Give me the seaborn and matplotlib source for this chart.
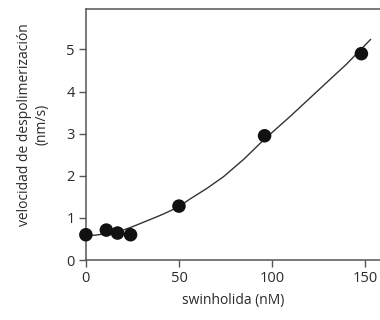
import numpy as np
import pandas as pd
import matplotlib
matplotlib.use('Agg')
import matplotlib.pyplot as plt
import seaborn as sns

# measured points
swin_nm = [0, 11, 17, 24, 50, 96, 148]
velocity = [0.60, 0.71, 0.64, 0.60, 1.28, 2.95, 4.90]

# fitted curve
fit_x = [0, 5, 10, 15, 20, 25, 30, 35, 40, 45, 50, 56, 65, 74, 85, 95, 110, 128, 140, 153]
fit_y = [0.58, 0.59, 0.62, 0.66, 0.71, 0.79, 0.88, 0.97, 1.06, 1.16, 1.27, 1.45, 1.70, 1.98, 2.40, 2.83, 3.42, 4.16, 4.65, 5.24]

x_ticks = [0, 50, 100, 150]
y_ticks = [0, 1, 2, 3, 4, 5]

sns.set_style('ticks')
plt.rcParams['font.family'] = ['Open Sans', 'DejaVu Sans']

pts = pd.DataFrame({'x': swin_nm, 'y': velocity})
curve = pd.DataFrame({'x': fit_x, 'y': fit_y})

fig = plt.figure(figsize=(3.8, 3.2), dpi=100)
ax = fig.add_axes([0.226, 0.1875, 0.774, 0.783])

sns.lineplot(data=curve, x='x', y='y', ax=ax, color='#333333', linewidth=1.0)
sns.scatterplot(data=pts, x='x', y='y', ax=ax, color='#111111', s=95,
                edgecolor='none', zorder=3, clip_on=False)

ax.set_xlim(0, 158)
ax.set_ylim(0, 5.95)
ax.set_xticks(x_ticks)
ax.set_yticks(y_ticks)

gray = '#555555'
for side in ['left', 'top', 'bottom']:
    ax.spines[side].set_color(gray)
    ax.spines[side].set_linewidth(1.1)
ax.spines['right'].set_visible(False)
ax.tick_params(axis='both', direction='out', length=5, width=1.0, color=gray,
               labelsize=10.5, labelcolor='#2a2a2a', pad=3)

ax.set_xlabel('swinholida (nM)', fontsize=10, color='#2a2a2a')
ax.set_ylabel('velocidad de despolimerización\n(nm/s)', fontsize=10,
              color='#2a2a2a', linespacing=1.15)
ax.xaxis.set_label_coords(0.5, -0.13)
ax.yaxis.set_label_coords(-0.125, 0.54)

fig.savefig('out.png', dpi=100)
